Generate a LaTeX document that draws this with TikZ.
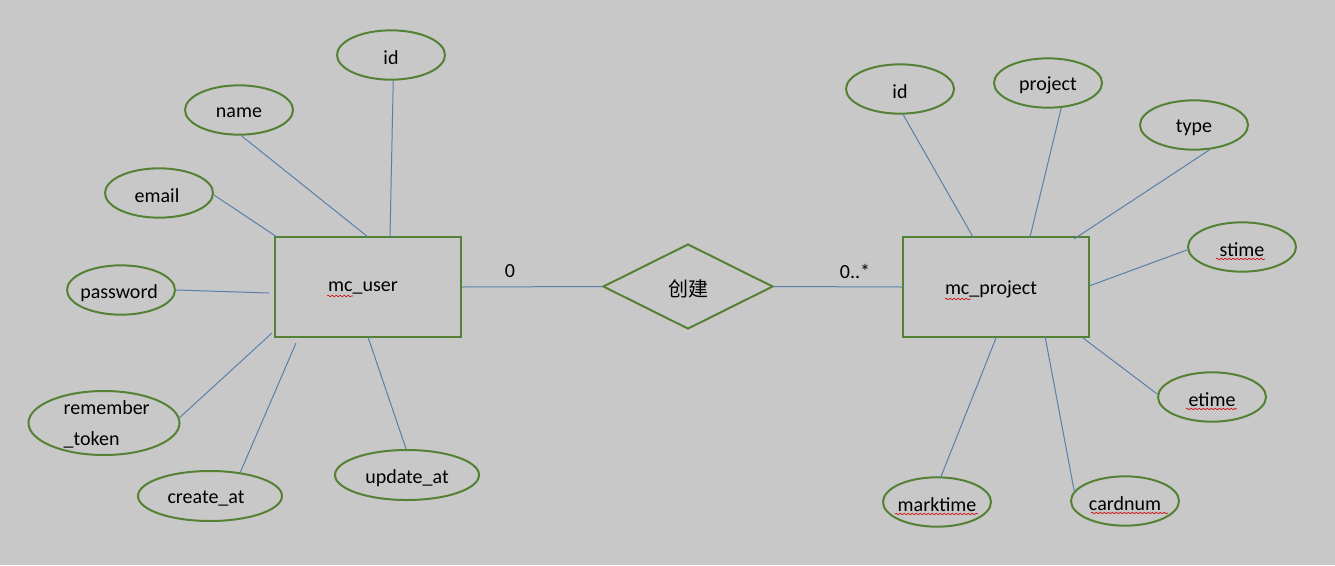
\documentclass[tikz,border=0pt]{standalone}
\usepackage{fontspec}
\setmainfont{Carlito}
\newfontfamily\cjk{Noto Sans CJK SC}
\usetikzlibrary{shapes.geometric,decorations.pathmorphing}
\definecolor{bg}{HTML}{C8C8C8}
\definecolor{grn}{HTML}{548235}
\definecolor{blu}{HTML}{5A80AA}
\definecolor{wavy}{HTML}{D01010}
\begin{document}
\begin{tikzpicture}[x=0.75pt,y=-0.75pt,
  txt/.style={font=\fontsize{15}{23.25}\selectfont, inner sep=0pt, text=black},
  lbl/.style={txt, yshift=-2pt},
  attr/.style={draw=grn, line width=1.5pt, ellipse, inner sep=0pt, minimum width=81pt, minimum height=37pt},
  wide/.style={minimum width=108pt, minimum height=37.5pt},
  ent/.style={draw=grn, line width=1.5pt, rectangle, inner sep=0pt, minimum width=139.5pt, minimum height=75pt},
  relbox/.style={draw=grn, line width=1.5pt, diamond, aspect=2, inner sep=0pt, minimum width=127.5pt, minimum height=63.75pt},
  conn/.style={draw=blu, line width=0.75pt},
  spell/.style={draw=wavy, line width=0.5pt, decorate, decoration={snake, segment length=3pt, amplitude=0.55pt}}
]
\useasboundingbox[fill=bg] (0,0) rectangle (1335,565);

% entities and relation
\node[ent] (user) at (368,287) {};
\node[txt] (userlbl) at (363,288) {mc\_user};
\node[ent] (proj) at (996,287) {};
\node[txt] (projlbl) at (991,289) {mc\_project};
\node[relbox] (rel) at (688,286.5) {};
\node[txt, font=\cjk\fontsize{15}{18}\selectfont] (rellbl) at (688,289) {创建};

\draw[conn] (user.east) -- (rel.west);
\draw[conn] (rel.east) -- (proj.west);
\node[txt] (card1) at (510,271) {0};
\node[txt] (card2) at (855,271) {0..*};

% user attributes
\node[attr, label={[lbl]center:id}] (uid) at (391,55) {};
\node[attr, label={[lbl]center:name}] (uname) at (239,110) {};
\node[attr, label={[lbl,xshift=-1.5pt]center:email}] (uemail) at (159,193) {};
\node[attr, label={[lbl,xshift=-1.5pt]center:password}] (upass) at (121,290) {};
\node[attr, minimum width=113.25pt, minimum height=48pt, label={[txt, align=left, xshift=2pt, yshift=-1pt]center:remember\\\_token}] (urem) at (104,423) {};
\node[attr, wide, label={[lbl,xshift=-3pt]center:create\_at}] (ucreate) at (210,496) {};
\node[attr, wide, label={[lbl]center:update\_at}] (uupdate) at (407,475) {};

\coordinate (u1) at (390,237);
\coordinate (u2) at (368,237);
\coordinate (u3) at (277,237);
\coordinate (u4) at (269,293);
\coordinate (u5) at (272,333);
\coordinate (u6) at (296,343);
\coordinate (u7) at (368,337);
\draw[conn] (uid.-85) -- (u1);
\draw[conn] (uname.-85) -- (u2);
\draw[conn] (uemail.-2) -- (u3);
\draw[conn] (upass.0) -- (u4);
\draw[conn] (urem.4) -- (u5);
\draw[conn] (ucreate.38) -- (u6);
\draw[conn] (uupdate.92) -- (u7);

% project attributes
\node[attr, label={[lbl]center:id}] (pid) at (900,89) {};
\node[attr, label={[lbl]center:project}] (pproj) at (1048,83) {};
\node[attr, label={[lbl]center:type}] (ptype) at (1194,125) {};
\node[attr, label={[lbl]center:stime}] (pstime) at (1242,247) {};
\node[attr, label={[lbl]center:etime}] (petime) at (1212,397) {};
\node[attr, label={[lbl]center:marktime}] (pmark) at (937,502) {};
\node[attr, label={[lbl]center:cardnum}] (pcard) at (1125,501) {};

\coordinate (p1) at (973,237);
\coordinate (p2) at (1030,237);
\coordinate (p3) at (1074,239);
\coordinate (p4) at (1089,286);
\coordinate (p5) at (1083,338);
\coordinate (p6) at (996,338);
\coordinate (p7) at (1045,336);
\draw[conn] (pid.-83) -- (p1);
\draw[conn] (pproj.-62) -- (p2);
\draw[conn] (ptype.-57) -- (p3);
\draw[conn] (pstime.183) -- (p4);
\draw[conn] (petime.177) -- (p5);
\draw[conn] (pmark.81) -- (p6);
\draw[conn] (pcard.169) -- (p7);

% spell-check marks
\draw[spell] (327,296) -- (353,296);
\draw[spell] (945,299) -- (971,299);
\draw[spell] (1216,259) -- (1265,259);
\draw[spell] (1186,409) -- (1237,409);
\draw[spell] (895,514) -- (978,514);
\draw[spell] (1091,513) -- (1168,513);
\end{tikzpicture}
\end{document}
